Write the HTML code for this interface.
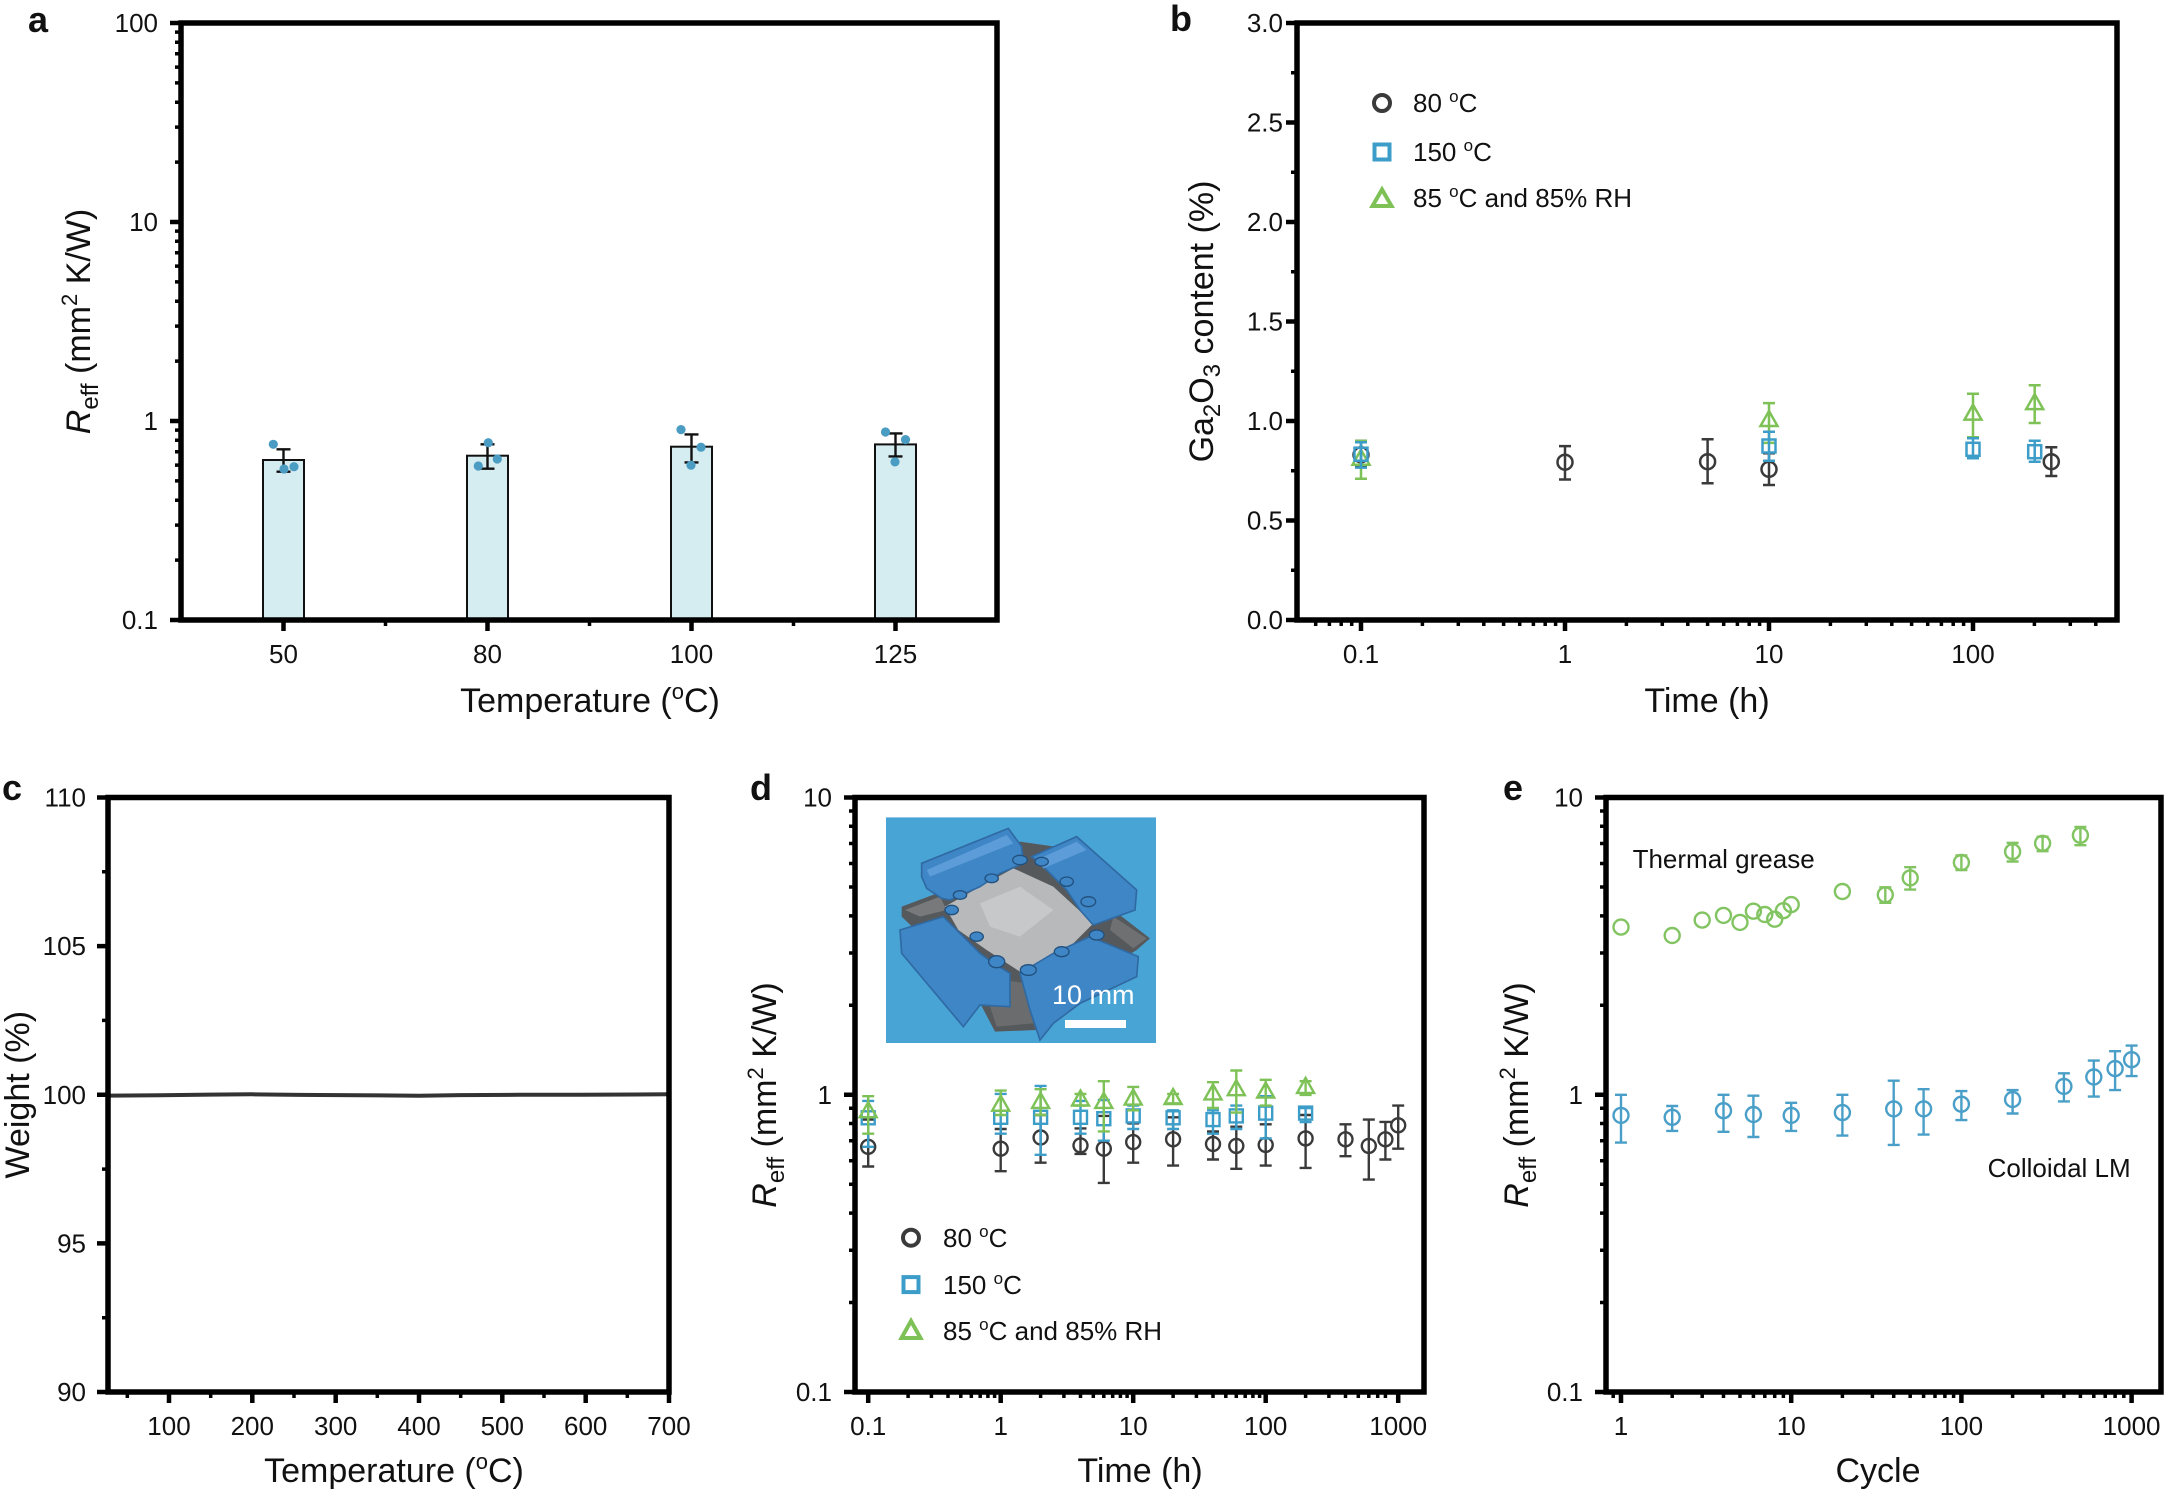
<!DOCTYPE html>
<html>
<head>
<meta charset="utf-8">
<style>
html,body{margin:0;padding:0;background:#fff;}
svg{display:block;}
text{font-family:"Liberation Sans",Arial,sans-serif;fill:#111;}
.tl{font-size:26px;}
.tt{font-size:34px;}
.pl{font-size:36px;font-weight:bold;}
</style>
</head>
<body>
<svg width="2168" height="1496" viewBox="0 0 2168 1496" xmlns="http://www.w3.org/2000/svg">
<rect x="0" y="0" width="2168" height="1496" fill="#fff"/>

<!-- ================= PANEL A ================= -->
<g>
  <g fill="#d5ecf1" stroke="#111" stroke-width="2">
    <rect x="263" y="460" width="41" height="160"/>
    <rect x="467" y="455.7" width="41" height="164.3"/>
    <rect x="671" y="446.7" width="41" height="173.3"/>
    <rect x="875" y="444.4" width="41" height="175.6"/>
  </g>
  <path d="M283.5 449.3V471.7M276.5 449.3H290.5M276.5 471.7H290.5 M487.5 444.3V468.7M480.5 444.3H494.5M480.5 468.7H494.5 M691.5 434.4V462.4M684.5 434.4H698.5M684.5 462.4H698.5 M895.5 433.4V456.4M888.5 433.4H902.5M888.5 456.4H902.5" stroke="#111" stroke-width="2.4" fill="none"/>
  <g fill="#4a9cc2">
    <circle cx="273.3" cy="444.3" r="4.6"/><circle cx="284" cy="469" r="4.6"/><circle cx="294" cy="466.7" r="4.6"/>
    <circle cx="488.3" cy="442.7" r="4.6"/><circle cx="478.3" cy="466" r="4.6"/><circle cx="497.3" cy="459" r="4.6"/>
    <circle cx="681" cy="429.6" r="4.6"/><circle cx="691" cy="465.2" r="4.6"/><circle cx="701" cy="447.2" r="4.6"/>
    <circle cx="885.5" cy="432" r="4.6"/><circle cx="895" cy="461.9" r="4.6"/><circle cx="905.5" cy="439.6" r="4.6"/>
  </g>
  <path d="M170 23H181M170 222H181M170 421H181M170 620H181 M283.5 620V631M487.5 620V631M691.5 620V631M895.5 620V631" stroke="#000" stroke-width="4.5"/>
  <path d="M175 560.1H181M175 525.1H181M175 500.2H181M175 480.9H181M175 465.1H181M175 451.8H181M175 440.3H181M175 430.1H181M175 361.1H181M175 326.1H181M175 301.2H181M175 281.9H181M175 266.1H181M175 252.8H181M175 241.3H181M175 231.1H181M175 162.1H181M175 127.1H181M175 102.2H181M175 82.9H181M175 67.1H181M175 53.8H181M175 42.3H181M175 32.1H181 M385.5 620V626M589.5 620V626M793.5 620V626" stroke="#000" stroke-width="3.5"/>
  <rect x="181" y="23" width="816" height="597" fill="none" stroke="#000" stroke-width="5.5"/>
  <g class="tl" text-anchor="end">
    <text x="158" y="32">100</text><text x="158" y="231">10</text><text x="158" y="430">1</text><text x="158" y="629">0.1</text>
  </g>
  <g class="tl" text-anchor="middle">
    <text x="283.5" y="663">50</text><text x="487.5" y="663">80</text><text x="691.5" y="663">100</text><text x="895.5" y="663">125</text>
  </g>
  <text class="tt" x="590" y="712" text-anchor="middle">Temperature (<tspan font-size="22" dy="-13">o</tspan><tspan dy="13">C)</tspan></text>
  <text class="tt" transform="translate(90 321.5) rotate(-90)" text-anchor="middle"><tspan font-style="italic">R</tspan><tspan font-size="24" dy="8">eff</tspan><tspan dy="-8"> (mm</tspan><tspan font-size="22" dy="-13">2</tspan><tspan dy="13"> K/W)</tspan></text>
  <text class="pl" x="28" y="32">a</text>
</g>

<!-- ================= PANEL B ================= -->
<g>
  <path d="M1286 620H1297M1286 520.5H1297M1286 421H1297M1286 321.5H1297M1286 222H1297M1286 122.5H1297M1286 23H1297 M1361 620V631M1565 620V631M1769 620V631M1973 620V631" stroke="#000" stroke-width="4.5"/>
  <path d="M1291 570.25H1297M1291 470.75H1297M1291 371.25H1297M1291 271.75H1297M1291 172.25H1297M1291 72.75H1297 M1315.7 620V626M1329.4 620V626M1341.2 620V626M1351.7 620V626M1422.4 620V626M1458.3 620V626M1483.8 620V626M1503.6 620V626M1519.7 620V626M1533.4 620V626M1545.2 620V626M1555.6 620V626M1626.4 620V626M1662.3 620V626M1687.8 620V626M1707.6 620V626M1723.7 620V626M1737.4 620V626M1749.2 620V626M1759.6 620V626M1830.4 620V626M1866.3 620V626M1891.8 620V626M1911.6 620V626M1927.7 620V626M1941.4 620V626M1953.2 620V626M1963.6 620V626M2034.4 620V626M2070.3 620V626M2095.8 620V626" stroke="#000" stroke-width="3.5"/>
  <g stroke="#3a3a3a" stroke-width="2.5" fill="none">
    <path d="M1361 440.9V466.8M1355 440.9H1367M1355 466.8H1367 M1565 446.1V479.5M1559 446.1H1571M1559 479.5H1571 M1707.6 439.3V483.3M1701.6 439.3H1713.6M1701.6 483.3H1713.6 M1769 453.3V485M1763 453.3H1775M1763 485H1775 M2051.3 447.3V476M2045.3 447.3H2057.3M2045.3 476H2057.3"/>
    <circle cx="1361" cy="454.8" r="7.5"/><circle cx="1565" cy="462.2" r="7.5"/><circle cx="1707.6" cy="461.7" r="7.5"/><circle cx="1769" cy="469.3" r="7.5"/><circle cx="2051.3" cy="461.7" r="7.5"/>
  </g>
  <g stroke="#7ec257" stroke-width="2.5" fill="none">
    <path d="M1361 440.9V478.7M1355 440.9H1367M1355 478.7H1367 M1769 403.1V442.9M1763 403.1H1775M1763 442.9H1775 M1973 393.7V437.3M1967 393.7H1979M1967 437.3H1979 M2034.7 385.2V423M2028.7 385.2H2040.7M2028.7 423H2040.7"/>
    <polygon points="1361,449.8 1352.5,464.8 1369.5,464.8"/>
    <polygon points="1769,411 1760.5,426 1777.5,426"/>
    <polygon points="1973,404.6 1964.5,419.6 1981.5,419.6"/>
    <polygon points="2034.7,394.1 2026.2,409.1 2043.2,409.1"/>
  </g>
  <g stroke="#3d9dc9" stroke-width="2.5" fill="none">
    <path d="M1361 442.3V467.6M1355 442.3H1367M1355 467.6H1367 M1769 431.7V460.7M1763 431.7H1775M1763 460.7H1775 M1973 438.3V458.3M1967 438.3H1979M1967 458.3H1979 M2034.7 440.7V461.7M2028.7 440.7H2040.7M2028.7 461.7H2040.7"/>
    <rect x="1354.5" y="447.7" width="13" height="13"/>
    <rect x="1762.5" y="439.5" width="13" height="13"/>
    <rect x="1966.5" y="442.8" width="13" height="13"/>
    <rect x="2028.2" y="445.2" width="13" height="13"/>
  </g>
  <circle cx="1382" cy="103" r="8" fill="none" stroke="#3a3a3a" stroke-width="4"/>
  <rect x="1374.5" y="144.5" width="15" height="15" fill="none" stroke="#3d9dc9" stroke-width="4"/>
  <polygon points="1382,189.5 1372.5,206 1391.5,206" fill="none" stroke="#7ec257" stroke-width="4"/>
  <g class="tl">
    <text x="1413" y="112">80 <tspan font-size="17" dy="-10">o</tspan><tspan dy="10">C</tspan></text>
    <text x="1413" y="161">150 <tspan font-size="17" dy="-10">o</tspan><tspan dy="10">C</tspan></text>
    <text x="1413" y="207">85 <tspan font-size="17" dy="-10">o</tspan><tspan dy="10">C and 85% RH</tspan></text>
  </g>
  <rect x="1297" y="23" width="820" height="597" fill="none" stroke="#000" stroke-width="5.5"/>
  <g class="tl" text-anchor="end">
    <text x="1283" y="32">3.0</text><text x="1283" y="131.5">2.5</text><text x="1283" y="231">2.0</text><text x="1283" y="330.5">1.5</text><text x="1283" y="430">1.0</text><text x="1283" y="529.5">0.5</text><text x="1283" y="629">0.0</text>
  </g>
  <g class="tl" text-anchor="middle">
    <text x="1361" y="663">0.1</text><text x="1565" y="663">1</text><text x="1769" y="663">10</text><text x="1973" y="663">100</text>
  </g>
  <text class="tt" x="1707" y="712" text-anchor="middle">Time (h)</text>
  <text class="tt" transform="translate(1213 321.5) rotate(-90)" text-anchor="middle">Ga<tspan font-size="24" dy="7">2</tspan><tspan dy="-7">O</tspan><tspan font-size="24" dy="7">3</tspan><tspan dy="-7"> content (%)</tspan></text>
  <text class="pl" x="1170" y="31">b</text>
</g>

<!-- ================= PANEL C ================= -->
<g>
  <path d="M97 797.5H108M97 946.1H108M97 1094.75H108M97 1243.4H108M97 1392H108 M169 1392V1403M252.3 1392V1403M335.7 1392V1403M419 1392V1403M502.3 1392V1403M585.7 1392V1403M669 1392V1403" stroke="#000" stroke-width="4.5"/>
  <path d="M102 871.8H108M102 1020.4H108M102 1169.1H108M102 1317.7H108 M127.3 1392V1398M210.7 1392V1398M294 1392V1398M377.3 1392V1398M460.7 1392V1398M544 1392V1398M627.3 1392V1398" stroke="#000" stroke-width="3.5"/>
  <polyline points="110,1095.6 160,1095.2 210,1094.6 252,1094.3 300,1094.9 360,1095.2 419,1095.8 460,1095.1 520,1094.8 580,1094.7 669,1094.3" fill="none" stroke="#333" stroke-width="4"/>
  <rect x="108" y="797.5" width="561" height="594.5" fill="none" stroke="#000" stroke-width="5.5"/>
  <g class="tl" text-anchor="end">
    <text x="86" y="806.5">110</text><text x="86" y="955">105</text><text x="86" y="1104">100</text><text x="86" y="1252.5">95</text><text x="86" y="1401">90</text>
  </g>
  <g class="tl" text-anchor="middle">
    <text x="169" y="1435">100</text><text x="252.3" y="1435">200</text><text x="335.7" y="1435">300</text><text x="419" y="1435">400</text><text x="502.3" y="1435">500</text><text x="585.7" y="1435">600</text><text x="669" y="1435">700</text>
  </g>
  <text class="tt" x="394" y="1482" text-anchor="middle">Temperature (<tspan font-size="22" dy="-13">o</tspan><tspan dy="13">C)</tspan></text>
  <text class="tt" transform="translate(29 1094.75) rotate(-90)" text-anchor="middle">Weight (%)</text>
  <text class="pl" x="2" y="800">c</text>
</g>

<!-- ================= PANEL D ================= -->
<g>
  <defs>
    <clipPath id="insetclip"><rect x="886" y="817.3" width="270" height="225.7"/></clipPath>
  </defs>
  <g clip-path="url(#insetclip)">
    <rect x="886" y="817.3" width="270" height="225.7" fill="#49a4d6"/>
    <g transform="translate(880 810) scale(0.33333)">
      <polygon points="65,290 185,245 420,95 525,110 560,150 700,300 810,385 770,420 480,600 470,660 345,665 290,560 230,480 65,320" fill="#56595c"/>
      <polygon points="75,300 180,260 200,300 120,320" fill="#77797b"/>
      <polygon points="700,320 800,385 760,415 690,360" fill="#6e7072"/>
      <polygon points="300,500 440,520 460,640 350,650" fill="#6a6c6e"/>
      <polygon points="195,290 300,230 400,175 520,230 640,340 560,420 420,485 320,420 235,360" fill="#b7b9bb"/>
      <polygon points="300,280 420,230 520,300 420,380 330,350" fill="#c6c8c9"/>
      <g fill="#3f86c6" stroke="#2f6aa3" stroke-width="5">
        <polygon points="125,160 385,55 425,110 430,160 360,190 300,230 210,270 185,265 140,235 125,200"/>
        <polygon points="455,140 590,80 770,240 765,300 640,345 600,300 560,240 500,180"/>
        <polygon points="60,360 190,320 240,370 300,430 340,460 390,490 390,590 300,585 250,650 65,430"/>
        <polygon points="420,490 520,430 630,380 775,440 770,500 600,580 520,640 480,690 450,600"/>
      </g>
      <polygon points="140,180 380,75 400,100 150,200" fill="#5c9cd8"/>
      <polygon points="470,150 590,95 620,120 490,175" fill="#5c9cd8"/>
      <g fill="#3f86c6" stroke="#22507d" stroke-width="4">
        <ellipse cx="215" cy="300" rx="20" ry="14"/>
        <ellipse cx="240" cy="255" rx="20" ry="13"/>
        <ellipse cx="335" cy="205" rx="20" ry="13"/>
        <ellipse cx="420" cy="150" rx="22" ry="14"/>
        <ellipse cx="485" cy="155" rx="20" ry="13"/>
        <ellipse cx="560" cy="215" rx="20" ry="14"/>
        <ellipse cx="625" cy="275" rx="22" ry="15"/>
        <ellipse cx="650" cy="375" rx="22" ry="15"/>
        <ellipse cx="545" cy="425" rx="22" ry="15"/>
        <ellipse cx="445" cy="480" rx="24" ry="16"/>
        <ellipse cx="350" cy="455" rx="24" ry="18"/>
        <ellipse cx="290" cy="380" rx="20" ry="14"/>
      </g>
    </g>
    <rect x="1065" y="1020" width="61" height="8" fill="#fff"/>
    <text x="1052" y="1004" font-size="27" style="fill:#fff">10 mm</text>
  </g>
  <path d="M844 797.5H855M844 1094.75H855M844 1392H855 M868.2 1392V1403M1000.7 1392V1403M1133.2 1392V1403M1265.7 1392V1403M1398.2 1392V1403" stroke="#000" stroke-width="4.5"/>
  <path d="M849 1302.5H855M849 1250.2H855M849 1213.1H855M849 1184.2H855M849 1160.7H855M849 1140.8H855M849 1123.5H855M849 1108.3H855M849 1005.25H855M849 952.95H855M849 915.85H855M849 886.95H855M849 863.45H855M849 843.55H855M849 826.25H855M849 811.05H855 M908.1 1392V1398M931.4 1392V1398M948 1392V1398M960.8 1392V1398M971.3 1392V1398M980.2 1392V1398M987.9 1392V1398M994.6 1392V1398M1040.6 1392V1398M1063.9 1392V1398M1080.5 1392V1398M1093.3 1392V1398M1103.8 1392V1398M1112.7 1392V1398M1120.4 1392V1398M1127.1 1392V1398M1173.1 1392V1398M1196.4 1392V1398M1213 1392V1398M1225.8 1392V1398M1236.3 1392V1398M1245.2 1392V1398M1252.9 1392V1398M1259.6 1392V1398M1305.6 1392V1398M1328.9 1392V1398M1345.5 1392V1398M1358.3 1392V1398M1368.8 1392V1398M1377.7 1392V1398M1385.4 1392V1398" stroke="#000" stroke-width="3.5"/>
  <g stroke="#3a3a3a" stroke-width="2.4" fill="none">
    <path d="M868.2 1119.6V1166.5M862.2 1119.6H874.2M862.2 1166.5H874.2 M1000.7 1129V1171.2M994.7 1129H1006.7M994.7 1171.2H1006.7 M1040.6 1115V1162.7M1034.6 1115H1046.6M1034.6 1162.7H1046.6 M1080.5 1128.4V1153.9M1074.5 1128.4H1086.5M1074.5 1153.9H1086.5 M1103.8 1115.9V1182.9M1097.8 1115.9H1109.8M1097.8 1182.9H1109.8 M1133.2 1123.4V1162.7M1127.2 1123.4H1139.2M1127.2 1162.7H1139.2 M1173.1 1117.3V1165.6M1167.1 1117.3H1179.1M1167.1 1165.6H1179.1 M1213 1131.4V1159.5M1207 1131.4H1219M1207 1159.5H1219 M1236.3 1126.7V1168.8M1230.3 1126.7H1242.3M1230.3 1168.8H1242.3 M1265.7 1124.3V1165.6M1259.7 1124.3H1271.7M1259.7 1165.6H1271.7 M1305.6 1115V1167.9M1299.6 1115H1311.6M1299.6 1167.9H1311.6 M1345.5 1124.3V1156.2M1339.5 1124.3H1351.5M1339.5 1156.2H1351.5 M1368.8 1119.6V1179.6M1362.8 1119.6H1374.8M1362.8 1179.6H1374.8 M1385.4 1121.9V1159.5M1379.4 1121.9H1391.4M1379.4 1159.5H1391.4 M1398.2 1105.6V1148.7M1392.2 1105.6H1404.2M1392.2 1148.7H1404.2"/>
    <circle cx="868.2" cy="1146.8" r="7"/><circle cx="1000.7" cy="1148.7" r="7"/><circle cx="1040.6" cy="1137.5" r="7"/><circle cx="1080.5" cy="1145.4" r="7"/><circle cx="1103.8" cy="1148.7" r="7"/><circle cx="1133.2" cy="1142.1" r="7"/><circle cx="1173.1" cy="1139.3" r="7"/><circle cx="1213" cy="1144" r="7"/><circle cx="1236.3" cy="1145.9" r="7"/><circle cx="1265.7" cy="1144.9" r="7"/><circle cx="1305.6" cy="1138.4" r="7"/><circle cx="1345.5" cy="1139.3" r="7"/><circle cx="1368.8" cy="1145.9" r="7"/><circle cx="1385.4" cy="1139.3" r="7"/><circle cx="1398.2" cy="1125.3" r="7"/>
  </g>
  <g stroke="#3d9dc9" stroke-width="2.4" fill="none">
    <path d="M868.2 1100.9V1146.8M862.2 1100.9H874.2M862.2 1146.8H874.2 M1000.7 1093.9V1133.7M994.7 1093.9H1006.7M994.7 1133.7H1006.7 M1040.6 1085.9V1154.8M1034.6 1085.9H1046.6M1034.6 1154.8H1046.6 M1080.5 1100.9V1133.7M1074.5 1100.9H1086.5M1074.5 1133.7H1086.5 M1103.8 1100V1140.7M1097.8 1100H1109.8M1097.8 1140.7H1109.8 M1133.2 1105.6V1129M1127.2 1105.6H1139.2M1127.2 1129H1139.2 M1173.1 1110.3V1129M1167.1 1110.3H1179.1M1167.1 1129H1179.1 M1213 1110.3V1133.7M1207 1110.3H1219M1207 1133.7H1219 M1236.3 1105.6V1129M1230.3 1105.6H1242.3M1230.3 1129H1242.3 M1265.7 1096.2V1138.4M1259.7 1096.2H1271.7M1259.7 1138.4H1271.7 M1305.6 1108V1122M1299.6 1108H1311.6M1299.6 1122H1311.6"/>
    <rect x="861.7" y="1111.3" width="13" height="13"/><rect x="994.2" y="1110.8" width="13" height="13"/><rect x="1034.1" y="1110.8" width="13" height="13"/><rect x="1074" y="1110.8" width="13" height="13"/><rect x="1097.3" y="1112.2" width="13" height="13"/><rect x="1126.7" y="1109.4" width="13" height="13"/><rect x="1166.6" y="1111.3" width="13" height="13"/><rect x="1206.5" y="1113.1" width="13" height="13"/><rect x="1229.8" y="1109.4" width="13" height="13"/><rect x="1259.2" y="1106.6" width="13" height="13"/><rect x="1299.1" y="1106.6" width="13" height="13"/>
  </g>
  <g stroke="#7ec257" stroke-width="2.4" fill="none">
    <path d="M868.2 1096.2V1133.7M862.2 1096.2H874.2M862.2 1133.7H874.2 M1000.7 1090.6V1115M994.7 1090.6H1006.7M994.7 1115H1006.7 M1040.6 1089.2V1115M1034.6 1089.2H1046.6M1034.6 1115H1046.6 M1080.5 1093.9V1105.6M1074.5 1093.9H1086.5M1074.5 1105.6H1086.5 M1103.8 1081.2V1131.4M1097.8 1081.2H1109.8M1097.8 1131.4H1109.8 M1133.2 1086.9V1110.3M1127.2 1086.9H1139.2M1127.2 1110.3H1139.2 M1173.1 1093.9V1103.3M1167.1 1093.9H1179.1M1167.1 1103.3H1179.1 M1213 1082.2V1108M1207 1082.2H1219M1207 1108H1219 M1236.3 1070.5V1112.6M1230.3 1070.5H1242.3M1230.3 1112.6H1242.3 M1265.7 1079.8V1105.6M1259.7 1079.8H1271.7M1259.7 1105.6H1271.7 M1305.6 1081.2V1094.9M1299.6 1081.2H1311.6M1299.6 1094.9H1311.6"/>
    <polygon points="868.2,1102.2 859.7,1117.2 876.7,1117.2"/>
    <polygon points="1000.7,1095.7 992.2,1110.7 1009.2,1110.7"/>
    <polygon points="1040.6,1092.9 1032.1,1107.9 1049.1,1107.9"/>
    <polygon points="1080.5,1090.5 1072,1105.5 1089,1105.5"/>
    <polygon points="1103.8,1092.9 1095.3,1107.9 1112.3,1107.9"/>
    <polygon points="1133.2,1089.6 1124.7,1104.6 1141.7,1104.6"/>
    <polygon points="1173.1,1089.1 1164.6,1104.1 1181.6,1104.1"/>
    <polygon points="1213,1084.4 1204.5,1099.4 1221.5,1099.4"/>
    <polygon points="1236.3,1080.2 1227.8,1095.2 1244.8,1095.2"/>
    <polygon points="1265.7,1082.6 1257.2,1097.6 1274.2,1097.6"/>
    <polygon points="1305.6,1077.9 1297.1,1092.9 1314.1,1092.9"/>
  </g>
  <circle cx="911" cy="1237.7" r="8" fill="none" stroke="#3a3a3a" stroke-width="4"/>
  <rect x="903.5" y="1277.1" width="15" height="15" fill="none" stroke="#3d9dc9" stroke-width="4"/>
  <polygon points="911,1321 901.5,1338 920.5,1338" fill="none" stroke="#7ec257" stroke-width="4"/>
  <g class="tl">
    <text x="943" y="1247">80 <tspan font-size="17" dy="-10">o</tspan><tspan dy="10">C</tspan></text>
    <text x="943" y="1294">150 <tspan font-size="17" dy="-10">o</tspan><tspan dy="10">C</tspan></text>
    <text x="943" y="1340">85 <tspan font-size="17" dy="-10">o</tspan><tspan dy="10">C and 85% RH</tspan></text>
  </g>
  <rect x="855" y="797.5" width="569" height="594.5" fill="none" stroke="#000" stroke-width="5.5"/>
  <g class="tl" text-anchor="end">
    <text x="832" y="806.5">10</text><text x="832" y="1103.75">1</text><text x="832" y="1401">0.1</text>
  </g>
  <g class="tl" text-anchor="middle">
    <text x="868.2" y="1435">0.1</text><text x="1000.7" y="1435">1</text><text x="1133.2" y="1435">10</text><text x="1265.7" y="1435">100</text><text x="1398.2" y="1435">1000</text>
  </g>
  <text class="tt" x="1140" y="1482" text-anchor="middle">Time (h)</text>
  <text class="tt" transform="translate(776 1095) rotate(-90)" text-anchor="middle"><tspan font-style="italic">R</tspan><tspan font-size="24" dy="8">eff</tspan><tspan dy="-8"> (mm</tspan><tspan font-size="22" dy="-13">2</tspan><tspan dy="13"> K/W)</tspan></text>
  <text class="pl" x="750" y="800">d</text>
</g>

<!-- ================= PANEL E ================= -->
<g>
  <path d="M1595 797.5H1606M1595 1094.75H1606M1595 1392H1606 M1621 1392V1403M1791.2 1392V1403M1961.4 1392V1403M2131.6 1392V1403" stroke="#000" stroke-width="4.5"/>
  <path d="M1600 1302.5H1606M1600 1250.2H1606M1600 1213.1H1606M1600 1184.2H1606M1600 1160.7H1606M1600 1140.8H1606M1600 1123.5H1606M1600 1108.3H1606M1600 1005.25H1606M1600 952.95H1606M1600 915.85H1606M1600 886.95H1606M1600 863.45H1606M1600 843.55H1606M1600 826.25H1606M1600 811.05H1606 M1613.2 1392V1398M1672.2 1392V1398M1702.2 1392V1398M1723.5 1392V1398M1740 1392V1398M1753.4 1392V1398M1764.8 1392V1398M1774.7 1392V1398M1783.4 1392V1398M1842.4 1392V1398M1872.4 1392V1398M1893.7 1392V1398M1910.2 1392V1398M1923.6 1392V1398M1935 1392V1398M1944.9 1392V1398M1953.6 1392V1398M2012.6 1392V1398M2042.6 1392V1398M2063.9 1392V1398M2080.4 1392V1398M2093.8 1392V1398M2105.2 1392V1398M2115.1 1392V1398M2123.8 1392V1398" stroke="#000" stroke-width="3.5"/>
  <g stroke="#82c462" stroke-width="2.4" fill="none">
    <path d="M1885.3 887.3V902.8M1879.3 887.3H1891.3M1879.3 902.8H1891.3 M1910.2 867.2V889.6M1904.2 867.2H1916.2M1904.2 889.6H1916.2 M1961.4 855.5V870M1955.4 855.5H1967.4M1955.4 870H1967.4 M2012.6 842.8V861.5M2006.6 842.8H2018.6M2006.6 861.5H2018.6 M2042.6 836.7V851.2M2036.6 836.7H2048.6M2036.6 851.2H2048.6 M2080.4 826.9V845.2M2074.4 826.9H2086.4M2074.4 845.2H2086.4"/>
    <circle cx="1621" cy="927.1" r="7.5"/><circle cx="1672.2" cy="935.5" r="7.5"/><circle cx="1702.2" cy="920.1" r="7.5"/><circle cx="1723.5" cy="915.4" r="7.5"/><circle cx="1740" cy="922.4" r="7.5"/><circle cx="1753.4" cy="911.2" r="7.5"/><circle cx="1764.8" cy="914.5" r="7.5"/><circle cx="1774.7" cy="919.2" r="7.5"/><circle cx="1783.4" cy="910.7" r="7.5"/><circle cx="1791.2" cy="904.6" r="7.5"/><circle cx="1842.4" cy="891.5" r="7.5"/><circle cx="1885.3" cy="894.8" r="7.5"/><circle cx="1910.2" cy="877.9" r="7.5"/><circle cx="1961.4" cy="862.5" r="7.5"/><circle cx="2012.6" cy="851.7" r="7.5"/><circle cx="2042.6" cy="843.3" r="7.5"/><circle cx="2080.4" cy="835.3" r="7.5"/>
  </g>
  <g stroke="#4a9fc8" stroke-width="2.4" fill="none">
    <path d="M1621 1094.8V1142.6M1615 1094.8H1627M1615 1142.6H1627 M1672.2 1106V1130.9M1666.2 1106H1678.2M1666.2 1130.9H1678.2 M1723.5 1094.8V1131.8M1717.5 1094.8H1729.5M1717.5 1131.8H1729.5 M1753.4 1095.7V1137M1747.4 1095.7H1759.4M1747.4 1137H1759.4 M1791.2 1102.8V1130.9M1785.2 1102.8H1797.2M1785.2 1130.9H1797.2 M1842.4 1094.8V1135.6M1836.4 1094.8H1848.4M1836.4 1135.6H1848.4 M1893.7 1080.7V1144.9M1887.7 1080.7H1899.7M1887.7 1144.9H1899.7 M1923.6 1089.2V1134.6M1917.6 1089.2H1929.6M1917.6 1134.6H1929.6 M1961.4 1091.1V1120.1M1955.4 1091.1H1967.4M1955.4 1120.1H1967.4 M2012.6 1090.1V1113.5M2006.6 1090.1H2018.6M2006.6 1113.5H2018.6 M2063.9 1073.3V1101.4M2057.9 1073.3H2069.9M2057.9 1101.4H2069.9 M2093.8 1060.6V1096.6M2087.8 1060.6H2099.8M2087.8 1096.6H2099.8 M2115.1 1051.2V1090.1M2109.1 1051.2H2121.1M2109.1 1090.1H2121.1 M2131.6 1045.6V1076.1M2125.6 1045.6H2137.6M2125.6 1076.1H2137.6"/>
    <circle cx="1621" cy="1115.4" r="7.5"/><circle cx="1672.2" cy="1117.3" r="7.5"/><circle cx="1723.5" cy="1110.7" r="7.5"/><circle cx="1753.4" cy="1114.5" r="7.5"/><circle cx="1791.2" cy="1115.4" r="7.5"/><circle cx="1842.4" cy="1112.6" r="7.5"/><circle cx="1893.7" cy="1108.9" r="7.5"/><circle cx="1923.6" cy="1108.9" r="7.5"/><circle cx="1961.4" cy="1104.2" r="7.5"/><circle cx="2012.6" cy="1099.5" r="7.5"/><circle cx="2063.9" cy="1086.4" r="7.5"/><circle cx="2093.8" cy="1077" r="7.5"/><circle cx="2115.1" cy="1068.6" r="7.5"/><circle cx="2131.6" cy="1059.7" r="7.5"/>
  </g>
  <text class="tl" x="1632.6" y="868">Thermal grease</text>
  <text class="tl" x="1987.6" y="1177">Colloidal LM</text>
  <rect x="1606" y="797.5" width="555" height="594.5" fill="none" stroke="#000" stroke-width="5.5"/>
  <g class="tl" text-anchor="end">
    <text x="1583" y="806.5">10</text><text x="1583" y="1103.75">1</text><text x="1583" y="1401">0.1</text>
  </g>
  <g class="tl" text-anchor="middle">
    <text x="1621" y="1435">1</text><text x="1791.2" y="1435">10</text><text x="1961.4" y="1435">100</text><text x="2131.6" y="1435">1000</text>
  </g>
  <text class="tt" x="1878" y="1482" text-anchor="middle">Cycle</text>
  <text class="tt" transform="translate(1528 1095) rotate(-90)" text-anchor="middle"><tspan font-style="italic">R</tspan><tspan font-size="24" dy="8">eff</tspan><tspan dy="-8"> (mm</tspan><tspan font-size="22" dy="-13">2</tspan><tspan dy="13"> K/W)</tspan></text>
  <text class="pl" x="1503" y="800">e</text>
</g>
</svg>
</body>
</html>
